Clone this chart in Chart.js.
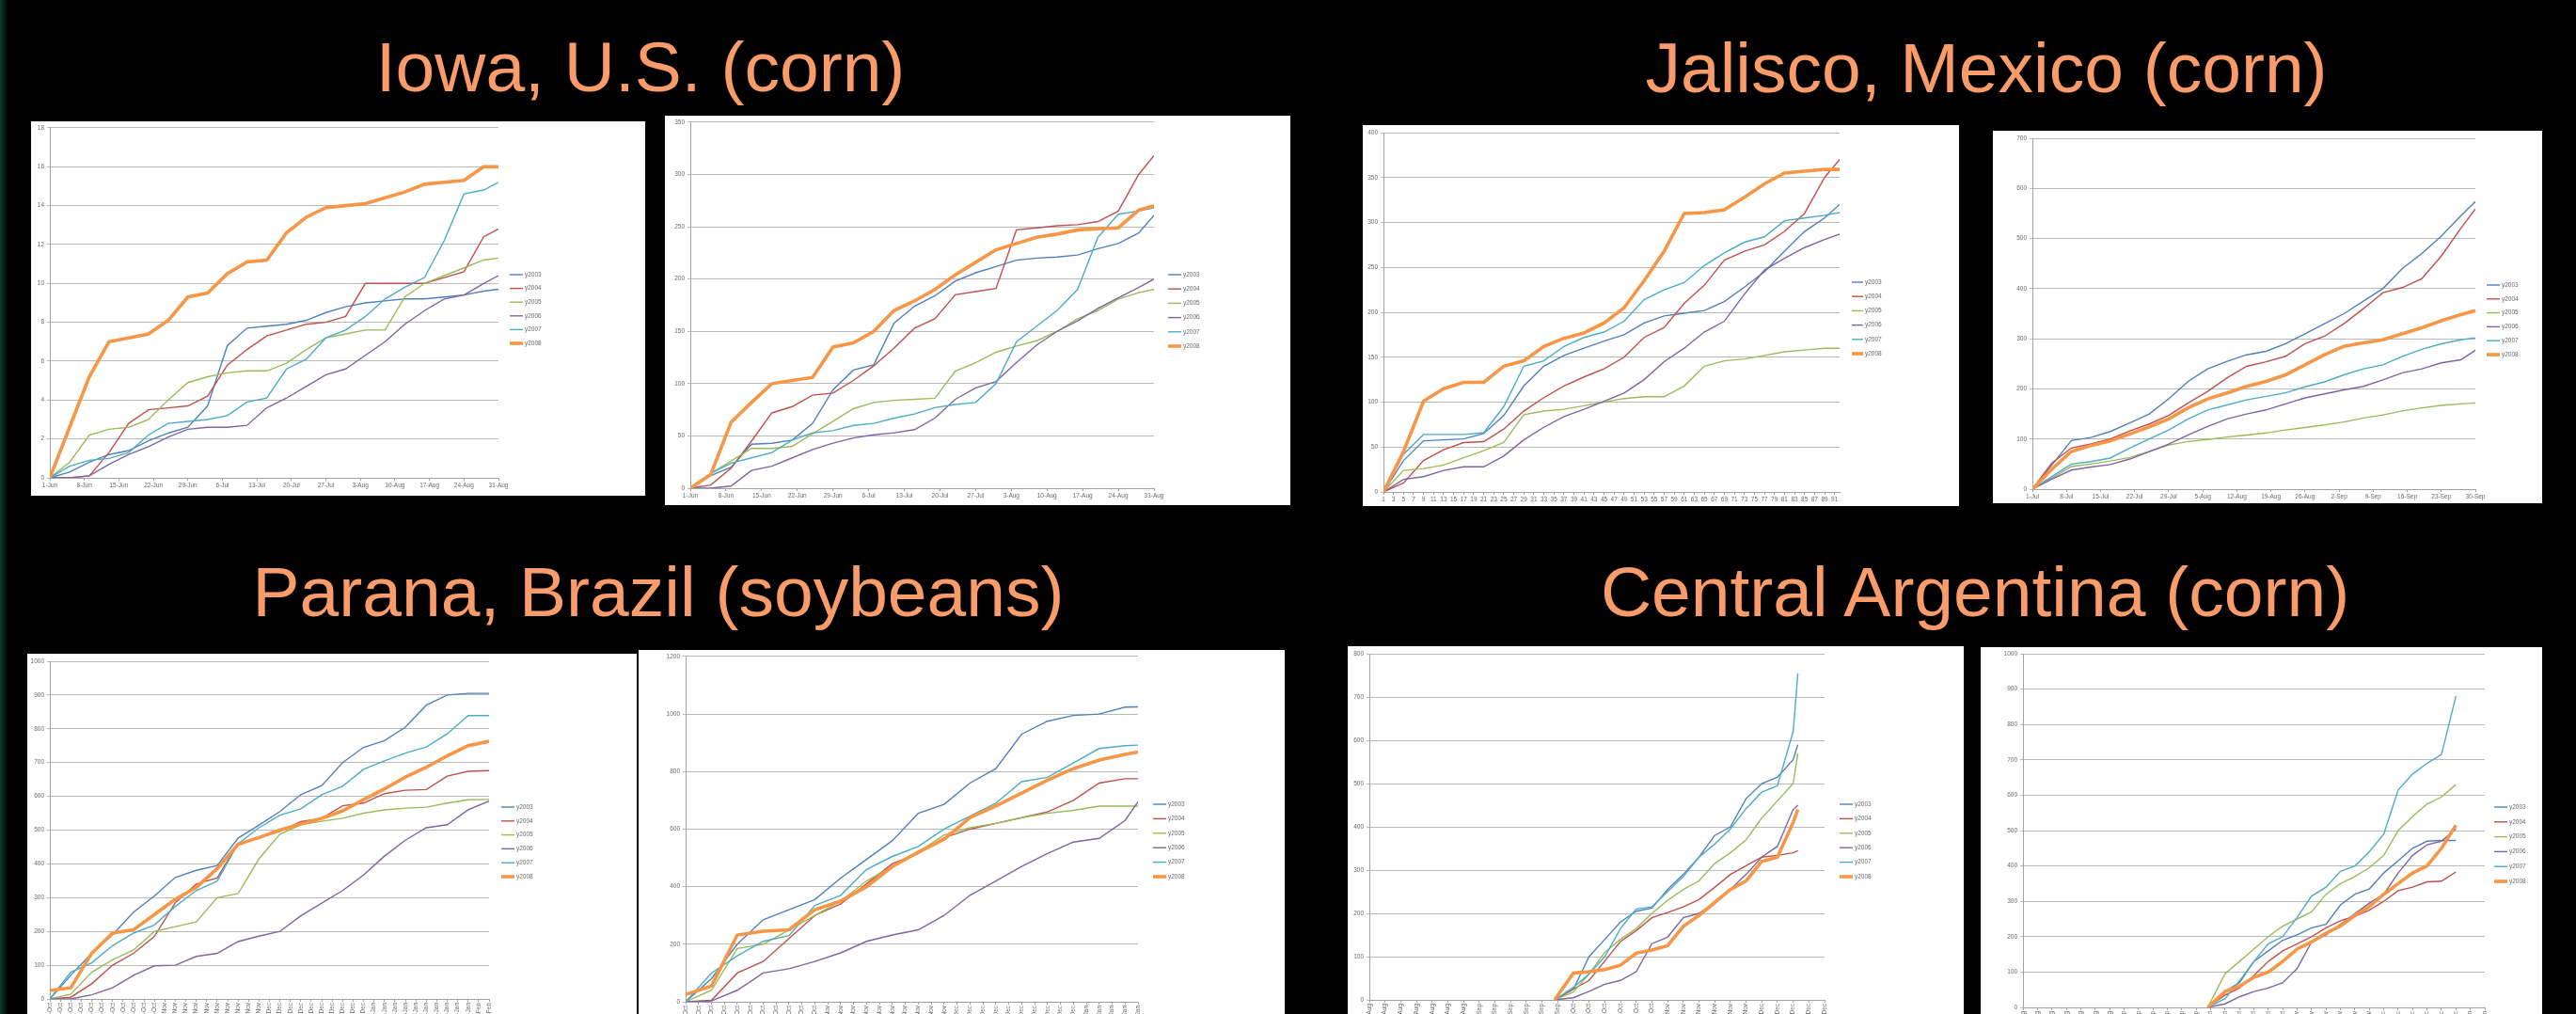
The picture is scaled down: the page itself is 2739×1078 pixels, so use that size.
<!DOCTYPE html>
<html>
<head>
<meta charset="utf-8">
<title>Cumulative rainfall by season</title>
<script src="https://cdn.jsdelivr.net/npm/chart.js@4.4.1/dist/chart.umd.min.js"></script>
<style>
  html, body { margin: 0; padding: 0; background: #000; width: 2739px; height: 1078px; overflow: hidden; }
  .edge { position: absolute; left: 0; top: 0; width: 9px; height: 1078px; background: linear-gradient(to right, #0f3d29, #000); }
  .title { position: absolute; font-family: "Liberation Sans", Arial, sans-serif; font-size: 75px; line-height: 75px;
           color: #FA9C69; white-space: nowrap; transform: translateX(-50%); }
  .panel { position: absolute; background: #fff; overflow: hidden; }
  .panel canvas { display: block; filter: blur(0.5px); }
</style>
</head>
<body>
<div class="edge"></div>
<div class="title" style="left:681px; top:34px;">Iowa, U.S. (corn)</div>
<div class="title" style="left:2112px; top:35px;">Jalisco, Mexico (corn)</div>
<div class="title" style="left:700px; top:592px;">Parana, Brazil (soybeans)</div>
<div class="title" style="left:2100px; top:592px;">Central Argentina (corn)</div>

<div class="panel" style="left:33px; top:129px; width:653px; height:398px;"><canvas id="iowaA" width="653" height="398"></canvas></div>
<div class="panel" style="left:707px; top:123px; width:665px; height:414px;"><canvas id="iowaB" width="665" height="414"></canvas></div>
<div class="panel" style="left:1449px; top:133px; width:634px; height:405px;"><canvas id="jalA" width="634" height="405"></canvas></div>
<div class="panel" style="left:2119px; top:139px; width:584px; height:396px;"><canvas id="jalB" width="584" height="396"></canvas></div>
<div class="panel" style="left:29px; top:695px; width:648px; height:415px;"><canvas id="parA" width="648" height="415"></canvas></div>
<div class="panel" style="left:679px; top:691px; width:687px; height:419px;"><canvas id="parB" width="687" height="419"></canvas></div>
<div class="panel" style="left:1433px; top:687px; width:655px; height:423px;"><canvas id="argA" width="655" height="423"></canvas></div>
<div class="panel" style="left:2106px; top:688px; width:597px; height:422px;"><canvas id="argB" width="597" height="422"></canvas></div>

<script>
// ---------- tick labels ----------
const weeksJunAug = ['1-Jun','8-Jun','15-Jun','22-Jun','29-Jun','6-Jul','13-Jul','20-Jul','27-Jul','3-Aug','10-Aug','17-Aug','24-Aug','31-Aug'];
const weeksJulSep = ['1-Jul','8-Jul','15-Jul','22-Jul','29-Jul','5-Aug','12-Aug','19-Aug','26-Aug','2-Sep','9-Sep','16-Sep','23-Sep','30-Sep'];
const jaliscoDayLabels = ['1','3','5','7','9','11','13','15','17','19','21','23','25','27','29','31','33','35','37','39','41','43','45',
  '47','49','51','53','55','57','59','61','63','65','67','69','71','73','75','77','79','81','83','85','87','89','91'];
const paranaDates = ['1-Oct','4-Oct','7-Oct','10-Oct','13-Oct','16-Oct','19-Oct','22-Oct','25-Oct','28-Oct','31-Oct',
  '3-Nov','6-Nov','9-Nov','12-Nov','15-Nov','18-Nov','21-Nov','24-Nov','27-Nov','30-Nov',
  '3-Dec','6-Dec','9-Dec','12-Dec','15-Dec','18-Dec','21-Dec','24-Dec','27-Dec','30-Dec',
  '2-Jan','5-Jan','8-Jan','11-Jan','14-Jan','17-Jan','20-Jan','23-Jan','26-Jan','29-Jan','1-Feb','4-Feb'];
const argentinaDates = ['1-Aug','6-Aug','11-Aug','16-Aug','21-Aug','26-Aug','31-Aug','5-Sep','10-Sep','15-Sep','20-Sep',
  '25-Sep','30-Sep','5-Oct','10-Oct','15-Oct','20-Oct','25-Oct','30-Oct','4-Nov','9-Nov','14-Nov','19-Nov','24-Nov',
  '29-Nov','4-Dec','9-Dec','14-Dec','19-Dec','24-Dec','29-Dec','3-Jan','8-Jan'];

// ---------- sample positions (day / category index) ----------
const dayGrid = [0,4,8,12,16,20,24,28,32,36,40,44,48,52,56,60,64,68,72,76,80,84,88,91];
const paranaLeftGrid = [0,2,4,6,8,10,12,14,16,18,20,22,24,26,28,30,32,34,36,38,40,42];
const paranaRightGrid = [0,2,4,6,8,10,12,14,16,18,20,22,24,26,28,30,32,34,35];
const argLeftGrid = [11.8,13,14,15,16,17,18,19,20,21,22,23,24,25,26,27,27.3];
const argRightGrid = [12.8,14,15,16,17,18,19,20,21,22,23,24,25,26,27,28,29,30];

// ---------- Iowa, first panel ----------
const iowaA_2003 = [0,0.3,0.8,1.2,1.4,1.9,2.3,2.6,3.7,6.8,7.7,7.8,7.9,8.1,8.5,8.8,9.0,9.1,9.2,9.2,9.3,9.4,9.6,9.7];
const iowaA_2004 = [0,0,0.1,1.3,2.8,3.5,3.6,3.7,4.2,5.8,6.6,7.3,7.6,7.9,8.0,8.3,10.0,10.0,10.0,10.0,10.3,10.6,12.4,12.8];
const iowaA_2005 = [0,0.8,2.2,2.5,2.6,3.0,4.0,4.9,5.2,5.4,5.5,5.5,5.9,6.6,7.2,7.4,7.6,7.6,9.3,10.0,10.4,10.8,11.2,11.3];
const iowaA_2006 = [0,0,0.1,0.7,1.2,1.6,2.1,2.5,2.6,2.6,2.7,3.6,4.1,4.7,5.3,5.6,6.3,7.0,7.9,8.6,9.2,9.4,10.0,10.4];
const iowaA_2007 = [0,0.6,0.9,1.0,1.3,2.2,2.8,2.9,3.0,3.2,3.9,4.1,5.6,6.1,7.2,7.6,8.3,9.2,9.8,10.3,12.2,14.6,14.8,15.2];
const iowaA_2008 = [0,2.6,5.2,7.0,7.2,7.4,8.1,9.3,9.5,10.5,11.1,11.2,12.6,13.4,13.9,14.0,14.1,14.4,14.7,15.1,15.2,15.3,16.0,16.0];

// ---------- Iowa, second panel ----------
const iowaB_2003 = [0,12,20,42,43,46,62,94,113,118,158,174,184,198,206,212,218,220,221,223,229,234,244,261];
const iowaB_2004 = [0,3,19,45,72,78,89,91,103,117,134,153,162,185,188,191,247,249,251,252,255,265,300,318];
const iowaB_2005 = [0,14,26,38,38,40,52,64,76,82,84,85,86,112,120,130,136,141,150,162,170,181,187,190];
const iowaB_2006 = [0,0,2,17,21,29,37,43,48,51,53,56,67,85,96,102,120,137,150,160,172,182,192,200];
const iowaB_2007 = [0,14,24,29,34,46,53,55,60,62,67,71,77,80,82,100,140,155,170,190,240,262,265,268];
const iowaB_2008 = [0,13,63,82,100,103,106,135,139,150,170,179,190,204,216,228,234,240,243,247,248,249,266,270];

// ---------- Jalisco, first panel ----------
const jalA_2003 = [0,35,57,58,59,65,85,118,140,152,160,168,175,188,196,199,202,212,228,245,268,290,305,320];
const jalA_2004 = [0,10,35,47,55,56,70,90,105,118,128,137,150,172,183,210,230,258,268,275,290,310,350,370];
const jalA_2005 = [0,24,26,30,38,46,55,86,90,92,96,100,104,106,106,118,140,146,148,152,156,158,160,160];
const jalA_2006 = [0,14,17,24,28,28,40,58,72,84,92,101,110,125,145,160,178,190,220,247,260,272,281,287];
const jalA_2007 = [0,42,64,64,64,66,95,140,146,162,172,178,190,214,225,233,252,266,278,284,302,305,308,311];
const jalA_2008 = [0,45,101,115,122,122,140,146,162,171,177,188,205,235,268,310,311,314,328,343,355,357,359,359];

// ---------- Jalisco, second panel ----------
const jalB_2003 = [0,48,97,103,115,132,150,180,215,240,255,268,275,290,310,330,350,375,400,440,470,505,545,574];
const jalB_2004 = [0,52,82,90,100,116,130,147,172,195,222,245,254,265,290,305,330,360,392,402,420,465,520,559];
const jalB_2005 = [0,22,45,50,56,63,75,88,95,99,104,108,112,118,123,128,134,142,148,156,162,167,170,172];
const jalB_2006 = [0,20,38,44,49,60,75,90,108,125,140,150,158,170,182,190,198,205,218,232,240,252,258,277];
const jalB_2007 = [0,25,50,55,62,82,100,118,140,158,168,178,185,192,204,214,228,240,248,265,279,290,298,302];
const jalB_2008 = [0,40,75,87,96,110,124,140,162,180,192,205,215,228,248,268,285,292,298,310,322,336,348,356];

// ---------- Parana, first panel ----------
const parA_2003 = [0,70,135,190,257,305,360,381,395,476,515,555,605,632,700,745,765,805,870,900,905,905];
const parA_2004 = [0,5,45,100,135,185,285,340,358,460,478,496,525,535,572,580,608,618,620,660,674,676];
const parA_2005 = [0,14,79,116,145,200,214,228,300,312,415,488,516,526,535,550,560,565,568,580,590,591];
const parA_2006 = [0,0,12,33,70,98,100,126,135,170,186,200,246,284,321,367,423,470,507,516,560,586];
const parA_2007 = [0,79,107,158,195,219,274,321,349,460,507,544,563,605,630,680,705,728,746,785,839,839];
const parA_2008 = [25,33,135,195,205,250,295,330,386,458,478,500,518,535,557,590,622,657,686,720,750,763];

// ---------- Parana, second panel ----------
const parB_2003 = [0,80,200,285,320,355,430,495,560,655,686,760,810,930,975,995,1000,1024,1025];
const parB_2004 = [0,5,100,140,220,300,340,410,480,515,570,600,620,640,660,700,760,775,775];
const parB_2005 = [0,40,185,200,250,300,350,420,470,520,580,605,620,640,655,665,680,680,680];
const parB_2006 = [0,3,40,100,115,140,170,210,232,250,300,370,420,470,515,555,568,630,695];
const parB_2007 = [0,100,160,210,230,335,370,460,505,540,600,645,690,765,780,830,880,890,892];
const parB_2008 = [25,55,232,245,250,320,350,400,470,520,565,640,680,725,770,810,840,860,868];

// ---------- Central Argentina, first panel ----------
const argA_2003 = [0,25,100,140,180,205,212,255,290,330,380,400,465,500,515,555,590];
const argA_2004 = [0,25,45,90,135,160,190,202,215,232,260,290,310,330,334,340,345];
const argA_2005 = [0,18,60,110,140,165,200,230,255,275,315,340,370,420,460,500,570];
const argA_2006 = [0,5,20,36,45,65,130,145,190,200,225,255,290,330,355,440,450];
const argA_2007 = [0,29,60,100,165,210,215,250,285,330,360,395,442,480,495,620,755];
const argA_2008 = [0,62,65,70,80,108,115,125,170,195,225,255,275,320,330,410,440];

// ---------- Central Argentina, second panel ----------
const argB_2003 = [0,45,70,130,160,190,205,225,235,290,320,335,380,415,450,470,472,472];
const argB_2004 = [0,35,55,90,130,160,180,200,225,245,258,275,300,330,340,355,357,383];
const argB_2005 = [0,95,130,165,200,230,250,270,320,350,370,395,430,500,540,575,595,630];
const argB_2006 = [0,10,30,45,55,70,110,185,205,235,265,295,320,380,430,460,470,505];
const argB_2007 = [0,25,75,130,180,200,255,315,340,385,400,440,490,615,660,690,715,880];
const argB_2008 = [0,45,60,85,100,130,165,185,210,230,260,285,320,350,380,400,450,515];

// ---------- styling ----------
const FONT = '"Liberation Sans", Arial, sans-serif';
const TICK = '#6a6a6a';
const GRID = '#b9b9b9';
const AXIS = '#a2a2a2';
const SERIES = [
  { label: 'y2003', color: '#4F81BD', width: 1.4 },
  { label: 'y2004', color: '#C0504D', width: 1.4 },
  { label: 'y2005', color: '#9BBB59', width: 1.4 },
  { label: 'y2006', color: '#8064A2', width: 1.4 },
  { label: 'y2007', color: '#4BACC6', width: 1.4 },
  { label: 'y2008', color: '#F79646', width: 3.6 }
];
Chart.defaults.font.family = FONT;

// legend drawn beside the plot, one short line + year per series
const sideLegend = {
  id: 'sideLegend',
  afterDraw(chart, args, opts) {
    const ctx = chart.ctx;
    ctx.save();
    ctx.font = '6.5px ' + FONT;
    ctx.textBaseline = 'middle';
    ctx.fillStyle = TICK;
    chart.data.datasets.forEach((ds, i) => {
      const y = opts.y + i * opts.gap;
      ctx.strokeStyle = ds.borderColor;
      ctx.lineWidth = ds.borderWidth;
      ctx.beginPath();
      ctx.moveTo(opts.x, y);
      ctx.lineTo(opts.x + opts.len, y);
      ctx.stroke();
      ctx.fillText(ds.label, opts.x + opts.len + 2, y);
    });
    ctx.restore();
  }
};

function lineSets(xs, rows) {
  return rows.map((ys, i) => ({
    label: SERIES[i].label,
    data: xs.map((x, k) => ({ x: x, y: ys[k] })),
    borderColor: SERIES[i].color,
    backgroundColor: SERIES[i].color,
    borderWidth: SERIES[i].width,
    pointRadius: 0,
    tension: 0,
    fill: false,
    order: SERIES.length - i
  }));
}

function draw(id, g, xs, rows, xo, yo) {
  new Chart(document.getElementById(id), {
    type: 'line',
    data: { datasets: lineSets(xs, rows) },
    options: {
      responsive: false,
      animation: false,
      devicePixelRatio: 1,
      layout: { padding: { left: 0, top: g.padTop, right: g.padRight, bottom: 0 } },
      plugins: {
        legend: { display: false },
        tooltip: { enabled: false },
        sideLegend: g.leg
      },
      scales: {
        x: {
          type: 'linear', min: xo.min, max: xo.max,
          afterFit: s => { s.height = g.xh; },
          grid: { drawOnChartArea: false, drawTicks: true, tickLength: 3, color: AXIS },
          border: { color: AXIS },
          ticks: {
            stepSize: xo.step, autoSkip: false, includeBounds: false,
            minRotation: xo.rot, maxRotation: xo.rot, padding: 1,
            color: TICK, font: { size: 6.5 }, callback: xo.label
          }
        },
        y: {
          min: 0, max: yo.max,
          afterFit: s => { s.width = g.yw; },
          grid: { color: GRID, drawTicks: true, tickLength: 3 },
          border: { color: AXIS },
          ticks: { stepSize: yo.step, padding: 3, color: TICK, font: { size: 6.5 }, callback: v => String(v) }
        }
      }
    },
    plugins: [sideLegend]
  });
}

draw('iowaA', { padTop: 6, padRight: 156, xh: 19, yw: 20, leg: { x: 509, y: 163, gap: 14.6, len: 14 } },
  dayGrid, [iowaA_2003, iowaA_2004, iowaA_2005, iowaA_2006, iowaA_2007, iowaA_2008],
  { min: 0, max: 91, step: 7, rot: 0, label: v => weeksJunAug[Math.round(v / 7)] }, { max: 18, step: 2 });

draw('iowaB', { padTop: 4, padRight: 145, xh: 18, yw: 27, leg: { x: 535, y: 169, gap: 15.2, len: 14 } },
  dayGrid, [iowaB_2003, iowaB_2004, iowaB_2005, iowaB_2006, iowaB_2007, iowaB_2008],
  { min: 0, max: 91, step: 7, rot: 0, label: v => weeksJunAug[Math.round(v / 7)] }, { max: 350, step: 50 });

draw('jalA', { padTop: 8, padRight: 127, xh: 15, yw: 22, leg: { x: 520, y: 167, gap: 15.2, len: 12 } },
  dayGrid, [jalA_2003, jalA_2004, jalA_2005, jalA_2006, jalA_2007, jalA_2008],
  { min: 0, max: 91, step: 2, rot: 0, label: v => jaliscoDayLabels[Math.round(v / 2)] }, { max: 400, step: 50 });

draw('jalB', { padTop: 8, padRight: 71, xh: 15, yw: 42, leg: { x: 525, y: 164, gap: 14.8, len: 14 } },
  dayGrid, [jalB_2003, jalB_2004, jalB_2005, jalB_2006, jalB_2007, jalB_2008],
  { min: 0, max: 91, step: 7, rot: 0, label: v => weeksJulSep[Math.round(v / 7)] }, { max: 700, step: 100 });

draw('parA', { padTop: 8, padRight: 157, xh: 48, yw: 24, leg: { x: 504, y: 163, gap: 14.8, len: 14 } },
  paranaLeftGrid, [parA_2003, parA_2004, parA_2005, parA_2006, parA_2007, parA_2008],
  { min: 0, max: 42, step: 1, rot: 90, label: v => paranaDates[Math.round(v)] }, { max: 1000, step: 100 });

draw('parB', { padTop: 4, padRight: 156, xh: 45, yw: 50, leg: { x: 547, y: 164, gap: 15.4, len: 14 } },
  paranaRightGrid, [parB_2003, parB_2004, parB_2005, parB_2006, parB_2007, parB_2008],
  { min: 0, max: 35, step: 1, rot: 90, label: v => paranaDates[Math.round(v)] }, { max: 1200, step: 200 });

draw('argA', { padTop: 8, padRight: 148, xh: 47, yw: 23, leg: { x: 523, y: 168, gap: 15.4, len: 14 } },
  argLeftGrid, [argA_2003, argA_2004, argA_2005, argA_2006, argA_2007, argA_2008],
  { min: 0, max: 29, step: 1, rot: 90, label: v => argentinaDates[Math.round(v)] }, { max: 800, step: 100 });

draw('argB', { padTop: 7, padRight: 61, xh: 39, yw: 45, leg: { x: 546, y: 170, gap: 15.8, len: 14 } },
  argRightGrid, [argB_2003, argB_2004, argB_2005, argB_2006, argB_2007, argB_2008],
  { min: 0, max: 32, step: 1, rot: 90, label: v => argentinaDates[Math.round(v)] }, { max: 1000, step: 100 });
</script>
</body>
</html>
